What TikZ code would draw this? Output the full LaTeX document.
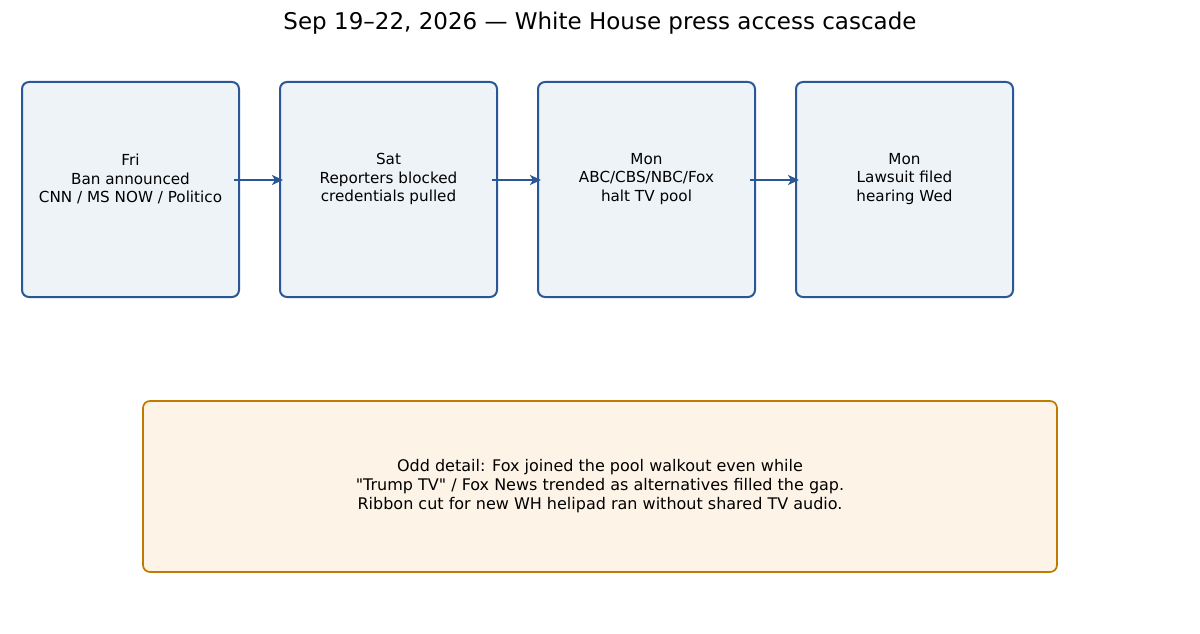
\documentclass[tikz,border=0pt]{standalone}
\usepackage{fontspec}
\setmainfont{DejaVu Sans}[Ligatures=ResetAll]
\usetikzlibrary{arrows.meta}
\newcommand{\sq}{\XeTeXglyph\XeTeXglyphindex "quotedbl"\relax}
\begin{document}
\begin{tikzpicture}[x=1pt,y=-1pt,
  box/.style={draw=bstroke,fill=bfill,line width=2pt,rounded corners=7pt,minimum width=217pt,minimum height=215pt,inner sep=0pt},
  lbl/.style={align=center,font=\fontsize{15.2}{18.5}\selectfont,inner sep=0pt},
  arr/.style={-{Stealth[length=11pt,width=10pt,inset=3pt]},draw=bstroke,line width=2.8pt}]
\definecolor{bstroke}{HTML}{2B5797}
\definecolor{bfill}{HTML}{EEF3F8}
\definecolor{ostroke}{HTML}{C07A00}
\definecolor{ofill}{HTML}{FDF3E6}
\useasboundingbox (0,0) rectangle (1200,634);
\node[font=\fontsize{23}{27}\selectfont] (title) at (600,23) {Sep 19–22, 2026 — White House press access cascade};
\node[box] (a) at (130.5,189.5) {};
\node[box] (b) at (388.5,189.5) {};
\node[box] (c) at (646.5,189.5) {};
\node[box] (d) at (904.5,189.5) {};
\node[lbl] (ta) at (130.5,179) {Fri\\Ban announced\\CNN / MS NOW / Politico};
\node[lbl] (tb) at (388.5,179) {Sat\\Reporters blocked\\credentials pulled};
\node[lbl] (tc) at (646.5,179) {Mon\\ABC/CBS/NBC/Fox\\halt TV pool};
\node[lbl] (td) at (904.5,179) {Mon\\Lawsuit filed\\hearing Wed};
\draw[arr] ([xshift=-6pt,yshift=9.5pt]a.east) -- ([xshift=4pt,yshift=9.5pt]b.west);
\draw[arr] ([xshift=-6pt,yshift=9.5pt]b.east) -- ([xshift=4pt,yshift=9.5pt]c.west);
\draw[arr] ([xshift=-6pt,yshift=9.5pt]c.east) -- ([xshift=4pt,yshift=9.5pt]d.west);
\node[draw=ostroke,fill=ofill,line width=1.7pt,rounded corners=7pt,minimum width=914pt,minimum height=171pt,inner sep=0pt] (n) at (600,486.5) {};
\node[lbl,font=\fontsize{16}{19}\selectfont] (nt) at (600,486) {Odd detail: Fox joined the pool walkout even while\\\sq Trump TV\sq{} / Fox News trended as alternatives filled the gap.\\Ribbon cut for new WH helipad ran without shared TV audio.};
\end{tikzpicture}
\end{document}
